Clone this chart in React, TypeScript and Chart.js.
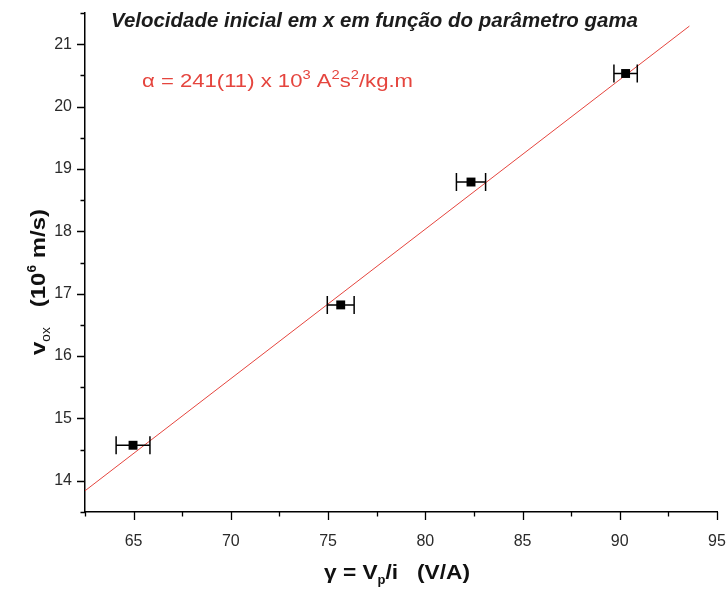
import React, { useEffect, useRef } from "react";
import { Chart, registerables } from "chart.js";

Chart.register(...registerables);

// ---- data ----
const gamma = [64.97, 75.65, 82.35, 90.3];
const vox = [14.57, 16.82, 18.79, 20.53];
const gammaErr = [0.87, 0.69, 0.75, 0.6];
const fitGamma = [62.5, 93.58];
const fitV = [13.84, 21.29];
const xMajorTicks = [65, 70, 75, 80, 85, 90, 95];
const yMajorTicks = [14, 15, 16, 17, 18, 19, 20, 21];

const titleText = "Velocidade inicial em x em função do parâmetro gama";
const FONT = "'Liberation Sans', Arial, sans-serif";
const RED = "#e5453e";

type Seg = { t: string; size: number; dy: number; bold?: boolean; italic?: boolean };

function drawSegs(ctx: CanvasRenderingContext2D, segs: Seg[], x: number, y: number, color: string, targetWidth?: number, align: "left" | "center" = "left") {
  const fontOf = (s: Seg) => `${s.italic ? "italic " : ""}${s.bold ? "bold " : ""}${s.size}px ${FONT}`;
  let total = 0;
  const widths = segs.map((s) => {
    ctx.font = fontOf(s);
    const w = ctx.measureText(s.t).width;
    total += w;
    return w;
  });
  const sx = targetWidth ? targetWidth / total : 1;
  ctx.save();
  ctx.translate(x, y);
  ctx.scale(sx, 1);
  let cx = align === "center" ? -total / 2 : 0;
  ctx.fillStyle = color;
  ctx.textBaseline = "alphabetic";
  ctx.textAlign = "left";
  segs.forEach((s, i) => {
    ctx.font = fontOf(s);
    ctx.fillText(s.t, cx, s.dy);
    cx += widths[i];
  });
  ctx.restore();
}

const customPlugin = {
  id: "customDraw",
  afterDatasetsDraw(chart: any) {
    const ctx = chart.ctx as CanvasRenderingContext2D;
    const xs = chart.scales.x;
    const ys = chart.scales.y;
    ctx.save();
    ctx.strokeStyle = "#000";
    ctx.lineWidth = 1.5;
    gamma.forEach((g, i) => {
      const x0 = xs.getPixelForValue(g - gammaErr[i]);
      const x1 = xs.getPixelForValue(g + gammaErr[i]);
      const y = ys.getPixelForValue(vox[i]);
      ctx.beginPath();
      ctx.moveTo(x0, y);
      ctx.lineTo(x1, y);
      ctx.moveTo(x0, y - 9);
      ctx.lineTo(x0, y + 9);
      ctx.moveTo(x1, y - 9);
      ctx.lineTo(x1, y + 9);
      ctx.stroke();
    });
    ctx.restore();
  },
  afterDraw(chart: any) {
    const ctx = chart.ctx as CanvasRenderingContext2D;
    const xs = chart.scales.x;
    const ys = chart.scales.y;
    const area = chart.chartArea;
    // tick marks (major/minor)
    ctx.save();
    ctx.strokeStyle = "#000";
    ctx.lineWidth = 1.3;
    ctx.beginPath();
    xs.ticks.forEach((t: any) => {
      const px = Math.round(xs.getPixelForValue(t.value)) + 0.5;
      const len = xMajorTicks.includes(t.value) ? 8 : 4.5;
      ctx.moveTo(px, area.bottom);
      ctx.lineTo(px, area.bottom + len);
    });
    ys.ticks.forEach((t: any) => {
      const py = Math.round(ys.getPixelForValue(t.value)) + 0.5;
      const len = yMajorTicks.includes(t.value) ? 8 : 4.5;
      ctx.moveTo(area.left, py);
      ctx.lineTo(area.left - len, py);
    });
    ctx.stroke();
    ctx.restore();

    // title
    drawSegs(ctx, [{ t: titleText, size: 21, dy: 0, bold: true, italic: true }], 111, 27, "#1c1c1c", 527);

    // fit annotation
    drawSegs(
      ctx,
      [
        { t: "α = 241(11) x 10", size: 18, dy: 0 },
        { t: "3", size: 12, dy: -8 },
        { t: " A", size: 18, dy: 0 },
        { t: "2", size: 12, dy: -8 },
        { t: "s", size: 18, dy: 0 },
        { t: "2", size: 12, dy: -8 },
        { t: "/kg.m", size: 18, dy: 0 },
      ],
      142,
      87,
      RED,
      271
    );

    // x axis title
    drawSegs(
      ctx,
      [
        { t: "γ = V", size: 21, dy: 0, bold: true },
        { t: "p", size: 12, dy: 5, bold: true },
        { t: "/i   (V/A)", size: 21, dy: 0, bold: true },
      ],
      397,
      579,
      "#111",
      146,
      "center"
    );

    // y axis title (rotated)
    ctx.save();
    ctx.translate(45, 282);
    ctx.rotate(-Math.PI / 2);
    drawSegs(
      ctx,
      [
        { t: "v", size: 21, dy: 0, bold: true },
        { t: "ox", size: 12, dy: 5, bold: false },
        { t: "   (10", size: 21, dy: 0, bold: true },
        { t: "6", size: 12, dy: -9, bold: true },
        { t: " m/s)", size: 21, dy: 0, bold: true },
      ],
      0,
      0,
      "#111",
      146,
      "center"
    );
    ctx.restore();
  },
};

export default function App() {
  const ref = useRef<HTMLCanvasElement>(null);
  useEffect(() => {
    const chart = new Chart(ref.current!, {
      type: "scatter",
      data: {
        datasets: [
          {
            type: "scatter",
            label: "dados",
            data: gamma.map((g, i) => ({ x: g, y: vox[i] })),
            pointStyle: "rect",
            pointRadius: 6.3,
            pointHoverRadius: 6.3,
            backgroundColor: "#000",
            borderColor: "#000",
            borderWidth: 0,
            order: 0,
          },
          {
            type: "line",
            label: "ajuste",
            data: fitGamma.map((g, i) => ({ x: g, y: fitV[i] })),
            borderColor: RED,
            borderWidth: 1,
            pointRadius: 0,
            showLine: true,
            fill: false,
            order: 1,
          } as any,
        ],
      },
      options: {
        animation: false,
        responsive: false,
        layout: { padding: { top: 13, right: 9, left: 0, bottom: 0 } },
        plugins: { legend: { display: false }, tooltip: { enabled: false }, title: { display: false } },
        scales: {
          x: {
            type: "linear",
            min: 62.5,
            max: 95,
            afterFit: (s: any) => {
              s.height = 77;
              s.paddingLeft = 0;
              s.paddingRight = 0;
            },
            border: { display: true, color: "#000", width: 1.5 },
            grid: { display: false, drawTicks: true, tickLength: 8 },
            ticks: {
              stepSize: 2.5,
              autoSkip: false,
              maxRotation: 0,
              padding: 12,
              color: "#2a2a2a",
              font: { family: FONT, size: 16 },
              callback: (v: any) => (xMajorTicks.includes(Number(v)) ? String(v) : ""),
            },
          },
          y: {
            type: "linear",
            min: 13.5,
            max: 21.5,
            afterFit: (s: any) => {
              s.width = 85;
              s.paddingTop = 0;
              s.paddingBottom = 0;
            },
            border: { display: true, color: "#000", width: 1.5 },
            grid: { display: false, drawTicks: true, tickLength: 8 },
            ticks: {
              stepSize: 0.5,
              autoSkip: false,
              padding: 5,
              color: "#2a2a2a",
              font: { family: FONT, size: 16 },
              callback: (v: any) => (yMajorTicks.includes(Number(v)) ? String(v) : ""),
            },
          },
        },
      },
      plugins: [customPlugin],
    } as any);
    return () => chart.destroy();
  }, []);
  return (
    <div style={{ position: "fixed", left: 0, top: 0, width: 726, height: 589, background: "#fff" }}>
      <canvas ref={ref} width={726} height={589} style={{ display: "block" }} />
    </div>
  );
}
